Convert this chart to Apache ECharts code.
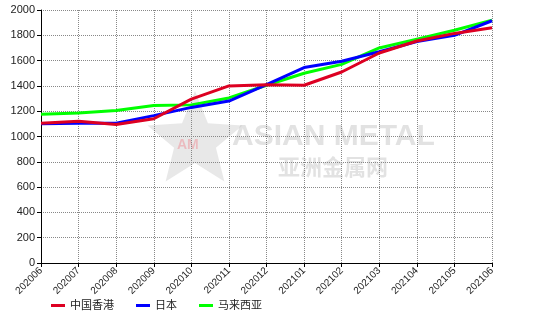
<!DOCTYPE html>
<html><head><meta charset="utf-8">
<script src="https://cdn.jsdelivr.net/npm/echarts@6/dist/echarts.min.js"></script>
<style>html,body{margin:0;padding:0;background:#fff}#c{width:554px;height:320px}</style>
</head><body><div id="c"></div>
<script>
const categories = ['202006','202007','202008','202009','202010','202011','202012','202101','202102','202103','202104','202105','202106'];
const hongKong = [1105,1120,1095,1140,1295,1400,1410,1405,1510,1660,1755,1815,1860];
const japan    = [1100,1105,1105,1165,1230,1280,1410,1545,1595,1670,1750,1800,1915];
const malaysia = [1175,1185,1205,1245,1250,1305,1405,1500,1570,1700,1770,1840,1920];
const yTicks = {min:0, max:2000, interval:200};

const chart = echarts.init(document.getElementById('c'), null, {renderer:'canvas'});
function star(cx, cy, R, r){
  const pts=[];
  for(let i=0;i<10;i++){
    const a = -Math.PI/2 + i*Math.PI/5;
    const rr = i%2===0?R:r;
    pts.push([cx+rr*Math.cos(a), cy+rr*Math.sin(a)]);
  }
  return pts;
}
const font = 'Arial, "Liberation Sans", "Noto Sans CJK SC", sans-serif';
chart.setOption({
  animation:false,
  grid:{left:41, right:62, top:10, bottom:57, containLabel:false},
  graphic:[
    {type:'polygon', z:-1, shape:{points:star(195,141,50,22)}, style:{fill:'rgba(205,205,205,0.45)'}},
    {type:'text', z:-1, left:177, top:138, style:{text:'AM', fill:'rgba(240,120,130,0.4)', font:'bold 14px '+font}},
    {type:'text', z:-1, left:232, top:122, style:{text:'ASIAN METAL', fill:'rgba(190,190,190,0.45)', font:'bold 30px '+font}},
    {type:'text', z:-1, left:278, top:156, style:{text:'亚洲金属网', fill:'rgba(190,190,190,0.45)', font:'bold 22px "Noto Sans CJK SC", sans-serif'}}
  ],
  legend:{
    bottom:4, left:46, itemWidth:14, itemHeight:3, itemGap:22,
    icon:'rect',
    textStyle:{fontSize:11, color:'#222', fontFamily:font},
    data:['中国香港','日本','马来西亚']
  },
  xAxis:{
    type:'category', data:categories, boundaryGap:false,
    axisLine:{lineStyle:{color:'#000', width:1}},
    axisTick:{show:true, length:4, lineStyle:{color:'#000'}},
    axisLabel:{rotate:45, fontSize:10, color:'#222', fontFamily:font, margin:6},
    splitLine:{show:true, lineStyle:{color:'#888', type:[1,1], width:1}}
  },
  yAxis:{
    type:'value', min:yTicks.min, max:yTicks.max, interval:yTicks.interval,
    axisLine:{show:true, lineStyle:{color:'#000', width:1}},
    axisTick:{show:true, length:4, lineStyle:{color:'#000'}},
    axisLabel:{fontSize:11, color:'#222', fontFamily:font, margin:6, formatter:v=>String(v)},
    splitLine:{show:true, lineStyle:{color:'#888', type:[1,1], width:1}}
  },
  series:[
    {name:'马来西亚', type:'line', data:malaysia, showSymbol:false, lineStyle:{width:3, color:'#00ff00'}, itemStyle:{color:'#00ff00'}},
    {name:'日本', type:'line', data:japan, showSymbol:false, lineStyle:{width:3, color:'#0000ff'}, itemStyle:{color:'#0000ff'}},
    {name:'中国香港', type:'line', data:hongKong, showSymbol:false, lineStyle:{width:3, color:'#dd0022'}, itemStyle:{color:'#dd0022'}}
  ]
});
</script></body></html>
